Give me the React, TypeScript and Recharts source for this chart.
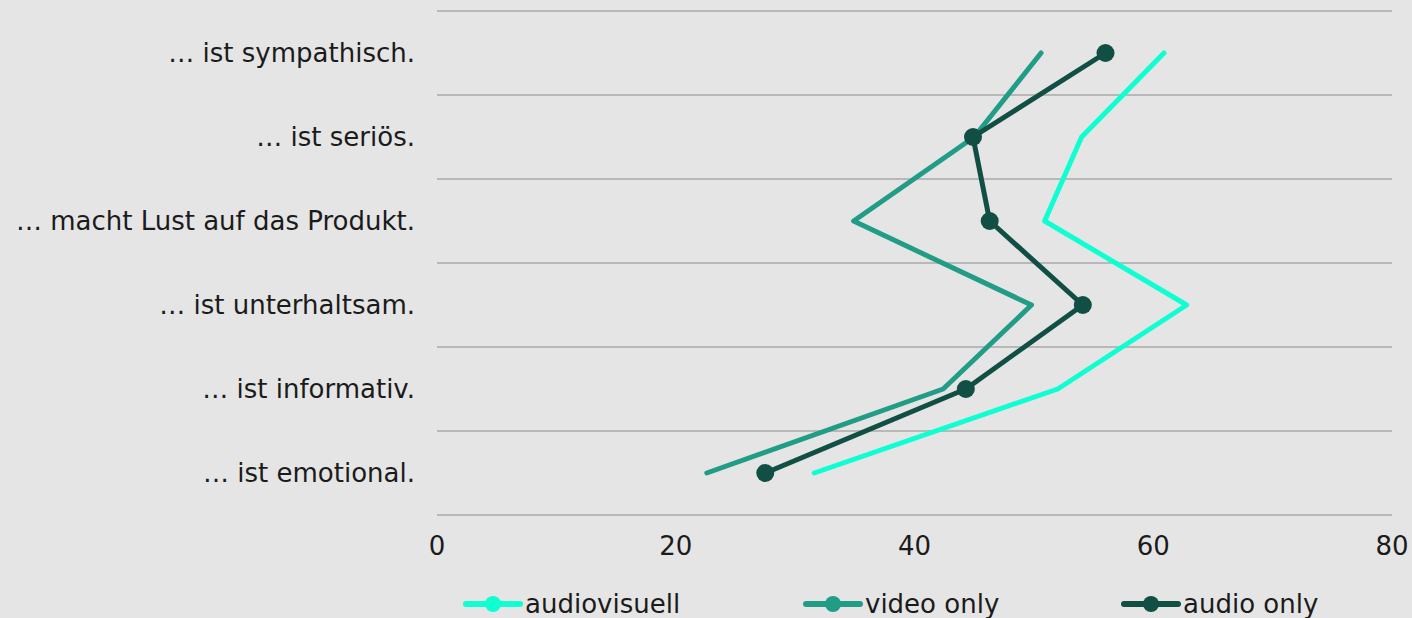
import { CartesianGrid, Legend, Line, LineChart, XAxis, YAxis } from "recharts"

const statements = [
  "… ist sympathisch.",
  "… ist seriös.",
  "… macht Lust auf das Produkt.",
  "… ist unterhaltsam.",
  "… ist informativ.",
  "… ist emotional.",
]

const audiovisuell = [60.9, 54.0, 50.9, 62.8, 52.0, 31.6]
const videoOnly = [50.6, 45.0, 34.9, 49.8, 42.4, 22.6]
const audioOnly = [56.0, 44.9, 46.3, 54.1, 44.3, 27.5]

const xTicks = [0, 20, 40, 60, 80]

const series = [
  { key: "audiovisuell", name: "audiovisuell", color: "#0dffd2", dots: false, left: 463 },
  { key: "videoOnly", name: "video only", color: "#219d87", dots: false, left: 803 },
  { key: "audioOnly", name: "audio only", color: "#114e44", dots: true, left: 1121 },
]

const data = statements.map((label, i) => ({
  label,
  audiovisuell: audiovisuell[i],
  videoOnly: videoOnly[i],
  audioOnly: audioOnly[i],
}))

const FONT = "'DejaVu Sans', sans-serif"
const FONT_SIZE = 26
const TEXT = "#1b1b1b"

// legend entries sit at fixed offsets under the plot
function LegendRow() {
  return (
    <div style={{ position: "relative", height: 28 }}>
      {series.map((s) => (
        <div
          key={s.key}
          style={{ position: "absolute", left: s.left, top: 0, height: 28, display: "flex", alignItems: "center", gap: 2 }}
        >
          <svg width={60} height={20}>
            <line x1={3} y1={10} x2={57} y2={10} stroke={s.color} strokeWidth={6} strokeLinecap="round" />
            <circle cx={30} cy={10} r={8} fill={s.color} />
          </svg>
          <span style={{ fontFamily: FONT, fontSize: FONT_SIZE, color: TEXT, whiteSpace: "nowrap" }}>{s.name}</span>
        </div>
      ))}
    </div>
  )
}

export default function App() {
  return (
    <div style={{ position: "absolute", left: 0, top: 0, width: 1412, height: 618, background: "#e5e5e5", overflow: "hidden" }}>
      <LineChart
        width={1412}
        height={618}
        data={data}
        layout="vertical"
        margin={{ top: 11, right: 20, bottom: 0, left: 0 }}
      >
        <CartesianGrid
          vertical={false}
          stroke="#b8b8b8"
          strokeWidth={2}
          horizontalCoordinatesGenerator={({ offset }: any) =>
            Array.from({ length: statements.length + 1 }, (_, i) => offset.top + (i * offset.height) / statements.length)
          }
        />
        <XAxis
          type="number"
          domain={[0, 80]}
          ticks={xTicks}
          axisLine={false}
          tickLine={false}
          tickSize={0}
          tickMargin={22}
          height={75}
          tick={{ fill: TEXT, fontSize: FONT_SIZE, fontFamily: FONT }}
        />
        <YAxis
          type="category"
          dataKey="label"
          width={437}
          padding={{ top: 42, bottom: 42 }}
          axisLine={false}
          tickLine={false}
          tickSize={0}
          tickMargin={22}
          interval={0}
          tick={{ fill: TEXT, fontSize: FONT_SIZE, fontFamily: FONT }}
        />
        <Legend verticalAlign="bottom" content={() => <LegendRow />} wrapperStyle={{ left: 0, width: 1412 }} />
        {series.map((s) => (
          <Line
            key={s.key}
            dataKey={s.key}
            name={s.name}
            stroke={s.color}
            strokeWidth={5}
            strokeLinecap="round"
            strokeLinejoin="round"
            dot={s.dots ? { r: 9, fill: s.color, stroke: s.color, strokeWidth: 0 } : false}
            activeDot={false}
            isAnimationActive={false}
          />
        ))}
      </LineChart>
    </div>
  )
}
